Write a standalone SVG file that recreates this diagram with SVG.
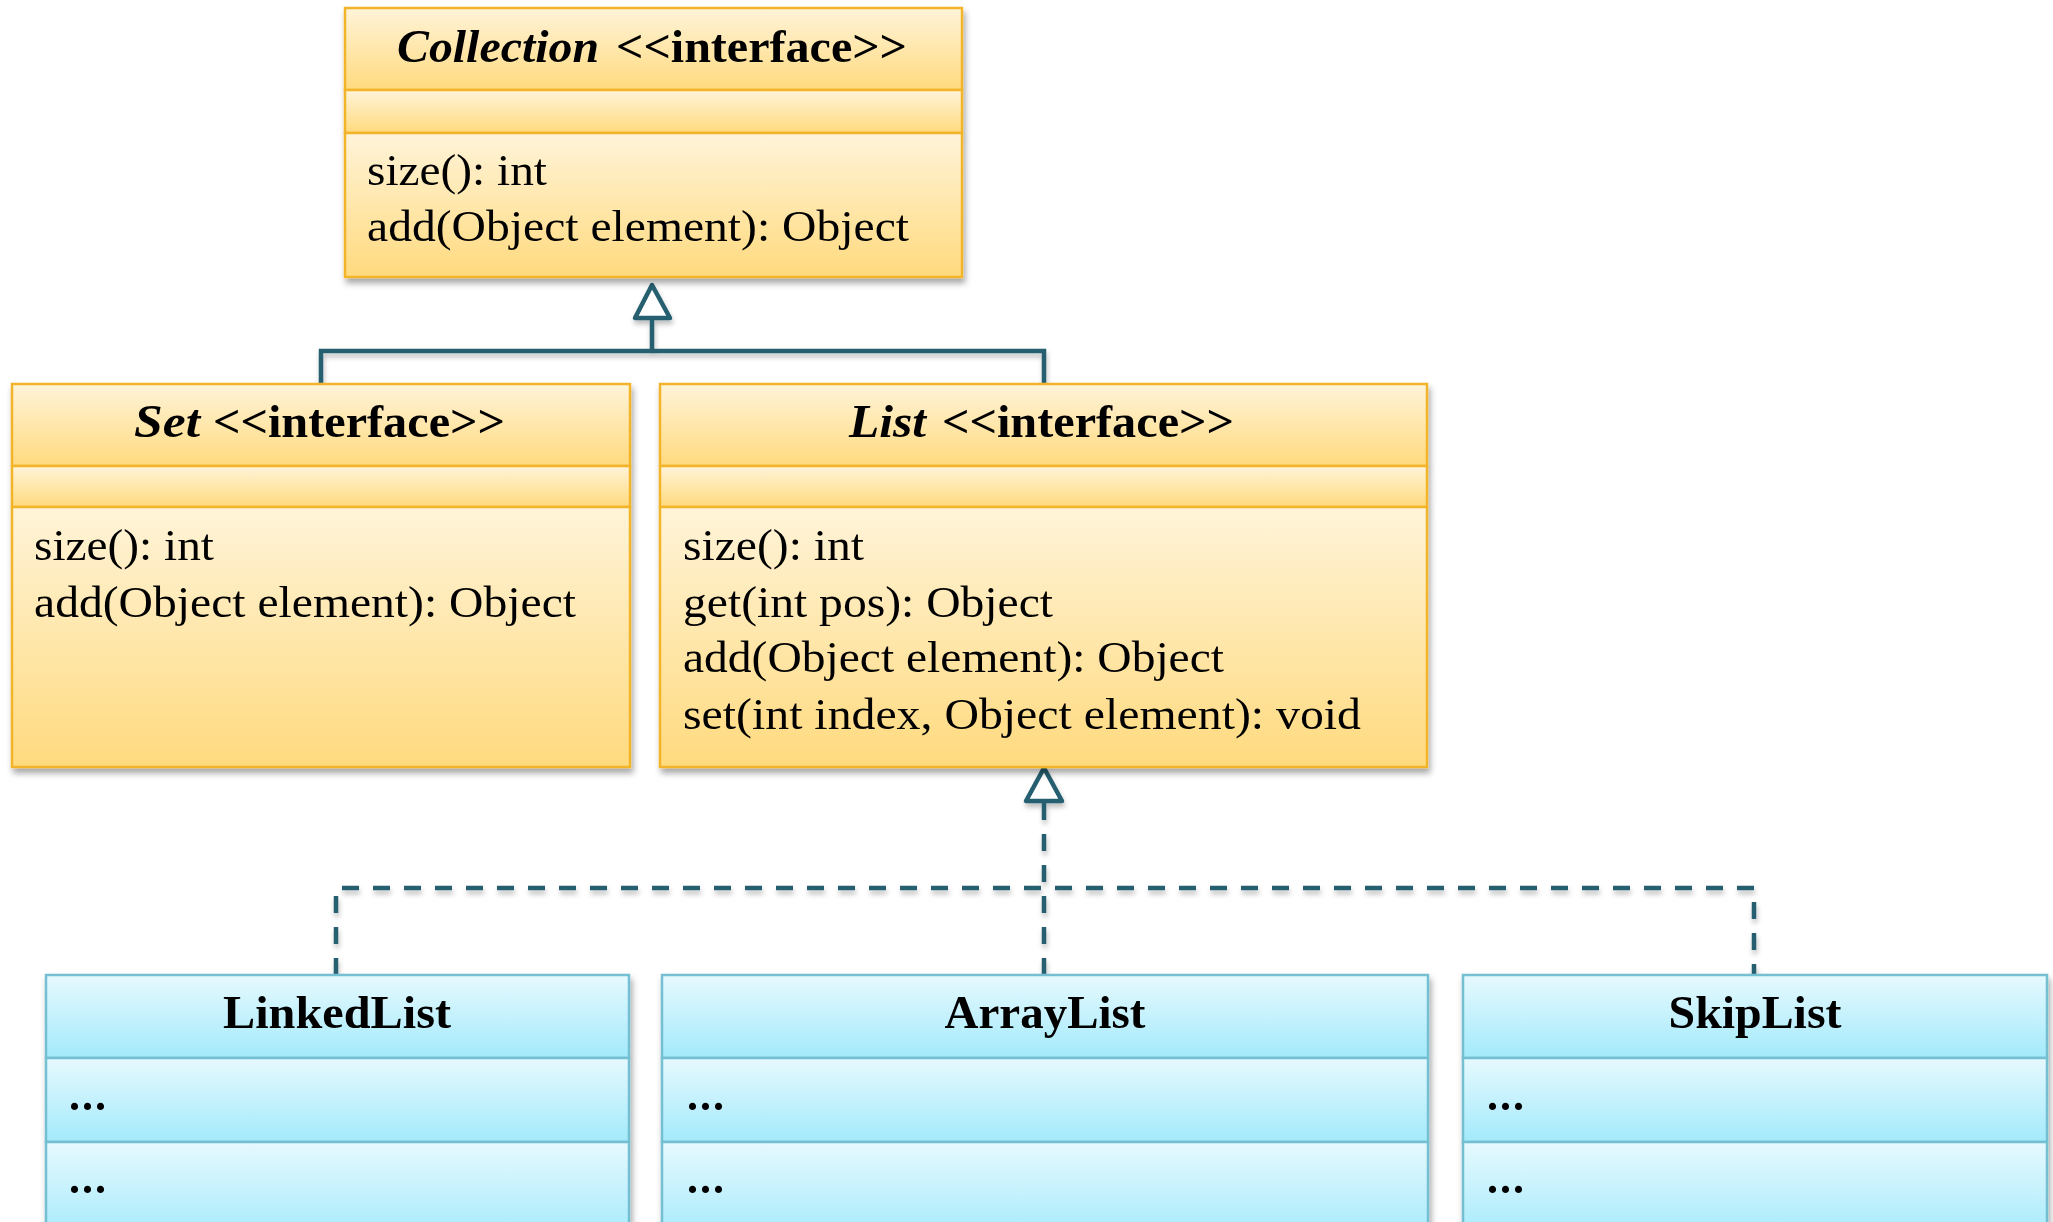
<svg xmlns="http://www.w3.org/2000/svg" width="2053" height="1222" viewBox="0 0 2053 1222">
<defs>
<linearGradient id="gy" x1="0" y1="0" x2="0" y2="1">
<stop offset="0" stop-color="#fff4d9"/>
<stop offset="1" stop-color="#ffda7e"/>
</linearGradient>
<linearGradient id="gb" x1="0" y1="0" x2="0" y2="1">
<stop offset="0" stop-color="#e6f9fe"/>
<stop offset="1" stop-color="#a3eafb"/>
</linearGradient>
<filter id="sh" x="-5%" y="-5%" width="110%" height="120%">
<feDropShadow dx="2" dy="5" stdDeviation="3" flood-color="#000" flood-opacity="0.35"/>
</filter>
<filter id="lsh" x="-5%" y="-20%" width="110%" height="160%">
<feDropShadow dx="1" dy="4" stdDeviation="2.5" flood-color="#000" flood-opacity="0.25"/>
</filter>
</defs>
<style>
.y{fill:url(#gy);stroke:#f2b52c;stroke-width:2.5}
.b{fill:url(#gb);stroke:#74bfd2;stroke-width:2.5}
text{font-family:"Liberation Serif","Times New Roman",serif;fill:#000}
.h{font-size:46px;font-weight:bold}
.hi{font-style:italic}
.m{font-size:45px}
.dots{font-size:44px;font-weight:bold;letter-spacing:2px}
.c{fill:none;stroke:#25606f;stroke-width:4.5}
.d{stroke-dasharray:17 14}
.ah{fill:#fff;stroke:#25606f;stroke-width:4.5;stroke-linejoin:round}
</style>
<rect width="2053" height="1222" fill="#fff"/>

<g id="connectors" filter="url(#lsh)">
<path class="c" d="M321,383 V351 H1044 V383 M652,351 V318"/>
<polygon class="ah" points="652,285 635,318 670,318"/>
<path class="c d" d="M336,975 V888 H1754 V975"/>
<path class="c d" d="M1044,975 V801"/>
<polygon class="ah" points="1044,768 1026,801 1062,801"/>
</g>

<g id="collection" filter="url(#sh)">
<rect class="y" x="345" y="8" width="617" height="82"/>
<rect class="y" x="345" y="90" width="617" height="43"/>
<rect class="y" x="345" y="133" width="617" height="144"/>
<text class="h" y="62"><tspan class="hi" x="397" textLength="202" lengthAdjust="spacingAndGlyphs">Collection</tspan><tspan x="616" textLength="291" lengthAdjust="spacingAndGlyphs">&lt;&lt;interface&gt;&gt;</tspan></text>
<text class="m" x="367" y="185" textLength="180" lengthAdjust="spacingAndGlyphs">size(): int</text>
<text class="m" x="367" y="241" textLength="542" lengthAdjust="spacingAndGlyphs">add(Object element): Object</text>
</g>

<g id="set" filter="url(#sh)">
<rect class="y" x="12" y="384" width="618" height="82"/>
<rect class="y" x="12" y="466" width="618" height="41"/>
<rect class="y" x="12" y="507" width="618" height="260"/>
<text class="h" y="437"><tspan class="hi" x="134" textLength="66" lengthAdjust="spacingAndGlyphs">Set</tspan><tspan x="213" textLength="292" lengthAdjust="spacingAndGlyphs">&lt;&lt;interface&gt;&gt;</tspan></text>
<text class="m" x="34" y="560" textLength="180" lengthAdjust="spacingAndGlyphs">size(): int</text>
<text class="m" x="34" y="617" textLength="542" lengthAdjust="spacingAndGlyphs">add(Object element): Object</text>
</g>

<g id="list" filter="url(#sh)">
<rect class="y" x="660" y="384" width="767" height="82"/>
<rect class="y" x="660" y="466" width="767" height="41"/>
<rect class="y" x="660" y="507" width="767" height="260"/>
<text class="h" y="437"><tspan class="hi" x="849" textLength="77" lengthAdjust="spacingAndGlyphs">List</tspan><tspan x="942" textLength="292" lengthAdjust="spacingAndGlyphs">&lt;&lt;interface&gt;&gt;</tspan></text>
<text class="m" x="683" y="560" textLength="181" lengthAdjust="spacingAndGlyphs">size(): int</text>
<text class="m" x="683" y="617" textLength="370" lengthAdjust="spacingAndGlyphs">get(int pos): Object</text>
<text class="m" x="683" y="672" textLength="541" lengthAdjust="spacingAndGlyphs">add(Object element): Object</text>
<text class="m" x="683" y="729" textLength="678" lengthAdjust="spacingAndGlyphs">set(int index, Object element): void</text>
</g>

<g id="linkedlist" filter="url(#sh)">
<rect class="b" x="46" y="975" width="583" height="83"/>
<rect class="b" x="46" y="1058" width="583" height="84"/>
<rect class="b" x="46" y="1142" width="583" height="100"/>
<text class="h" x="337" y="1028" text-anchor="middle" textLength="228" lengthAdjust="spacingAndGlyphs">LinkedList</text>
<text class="dots" x="69" y="1110">...</text>
<text class="dots" x="69" y="1193">...</text>
</g>

<g id="arraylist" filter="url(#sh)">
<rect class="b" x="662" y="975" width="766" height="83"/>
<rect class="b" x="662" y="1058" width="766" height="84"/>
<rect class="b" x="662" y="1142" width="766" height="100"/>
<text class="h" x="1045" y="1028" text-anchor="middle" textLength="201" lengthAdjust="spacingAndGlyphs">ArrayList</text>
<text class="dots" x="687" y="1110">...</text>
<text class="dots" x="687" y="1193">...</text>
</g>

<g id="skiplist" filter="url(#sh)">
<rect class="b" x="1463" y="975" width="584" height="83"/>
<rect class="b" x="1463" y="1058" width="584" height="84"/>
<rect class="b" x="1463" y="1142" width="584" height="100"/>
<text class="h" x="1755" y="1028" text-anchor="middle" textLength="173" lengthAdjust="spacingAndGlyphs">SkipList</text>
<text class="dots" x="1487" y="1110">...</text>
<text class="dots" x="1487" y="1193">...</text>
</g>
</svg>
